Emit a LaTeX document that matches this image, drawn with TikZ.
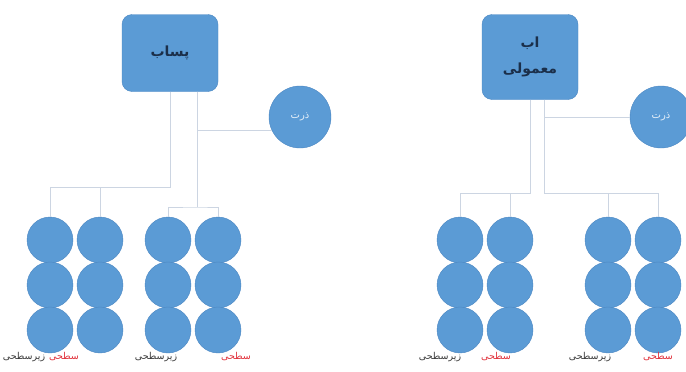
\documentclass[tikz,border=0pt]{standalone}
\usepackage{fontspec}
\TeXXeTstate=1
\newfontfamily\farsi[Script=Arabic]{DejaVu Sans}
\definecolor{plantblue}{HTML}{5B9BD5}
\definecolor{plantedge}{HTML}{4A86C2}
\definecolor{linkgray}{HTML}{CCD5E2}
\definecolor{boxtext}{HTML}{1B2F4A}
\definecolor{lbldark}{HTML}{3A3A3A}
\definecolor{lblred}{HTML}{E0303A}
\begin{document}
\begin{tikzpicture}[x=1pt, y=-1pt,
    water/.style={draw=plantedge, fill=plantblue, rounded corners=10pt, minimum width=96pt,
      minimum height=77pt, align=center, text=boxtext, font=\farsi\bfseries\fontsize{14}{26}\selectfont},
    crop/.style={circle, draw=plantedge, fill=plantblue, minimum size=62pt, inner sep=0pt,
      text=white!85!plantblue, font=\farsi\fontsize{10}{11}\selectfont},
    plant/.style={circle, draw=plantedge, fill=plantblue, minimum size=46pt, inner sep=0pt},
    link/.style={draw=linkgray, line width=1pt},
    lbl/.style={font=\farsi\fontsize{9.5}{11}\selectfont, text=lbldark, inner sep=0pt}]
    \useasboundingbox (0,0) rectangle (686,372);

    % --- Water sources ---
    \node[water] (effl) at (170,53) {\beginR پساب\endR};
    \node[water, minimum height=85pt] (norm) at (530,57) {\beginR اب\endR\\ \beginR معمولی\endR};

    % --- Crop circles ---
    \node[crop] (cornL) at (300,117) {\beginR ذرت\endR};
    \node[crop] (cornR) at (661,117) {\beginR ذرت\endR};

    % --- Plant grid (four groups, two columns, three rows) ---
    \foreach \g/\x in {a/50, b/168, c/460, d/608}
      \foreach \r in {1,2,3} {
        \node[plant] (\g\r1) at (\x, 195+45*\r) {};
        \node[plant] (\g\r2) at (\x+50, 195+45*\r) {};
      }

    % --- Junction points ---
    \coordinate (barA) at (50,187);
    \coordinate (barB) at (197,207);
    \coordinate (barC) at (460,193);
    \coordinate (barD) at (544,193);

    % --- Links, left side ---
    \draw[link] (effl.south) |- (barA) -- (a11.north);
    \draw[link] (a12.north) -- (a12.north |- barA);
    \draw[link] (effl.south -| barB) -- (barB);
    \draw[link] (b11.north) |- (barB) -| (b12.north);
    \draw[link] (effl.south -| barB) |- (cornL.205);

    % --- Links, right side ---
    \draw[link] (norm.south) |- (barC) -- (c11.north);
    \draw[link] (c12.north) -- (c12.north |- barC);
    \draw[link] (norm.south -| barD) -- (barD) -| (d12.north);
    \draw[link] (d11.north) -- (d11.north |- barD);
    \draw[link] (norm.south -| barD) |- (cornR.west);

    % --- Bottom labels ---
    \node[lbl] (la1) at (24,357) {\beginR زیرسطحی\endR};
    \node[lbl, text=lblred] (la2) at (64,357) {\beginR سطحی\endR};
    \node[lbl] (lb1) at (156,357) {\beginR زیرسطحی\endR};
    \node[lbl, text=lblred] (lb2) at (236,357) {\beginR سطحی\endR};
    \node[lbl] (lc1) at (440,357) {\beginR زیرسطحی\endR};
    \node[lbl, text=lblred] (lc2) at (496,357) {\beginR سطحی\endR};
    \node[lbl] (ld1) at (590,357) {\beginR زیرسطحی\endR};
    \node[lbl, text=lblred] (ld2) at (658,357) {\beginR سطحی\endR};
\end{tikzpicture}
\end{document}
